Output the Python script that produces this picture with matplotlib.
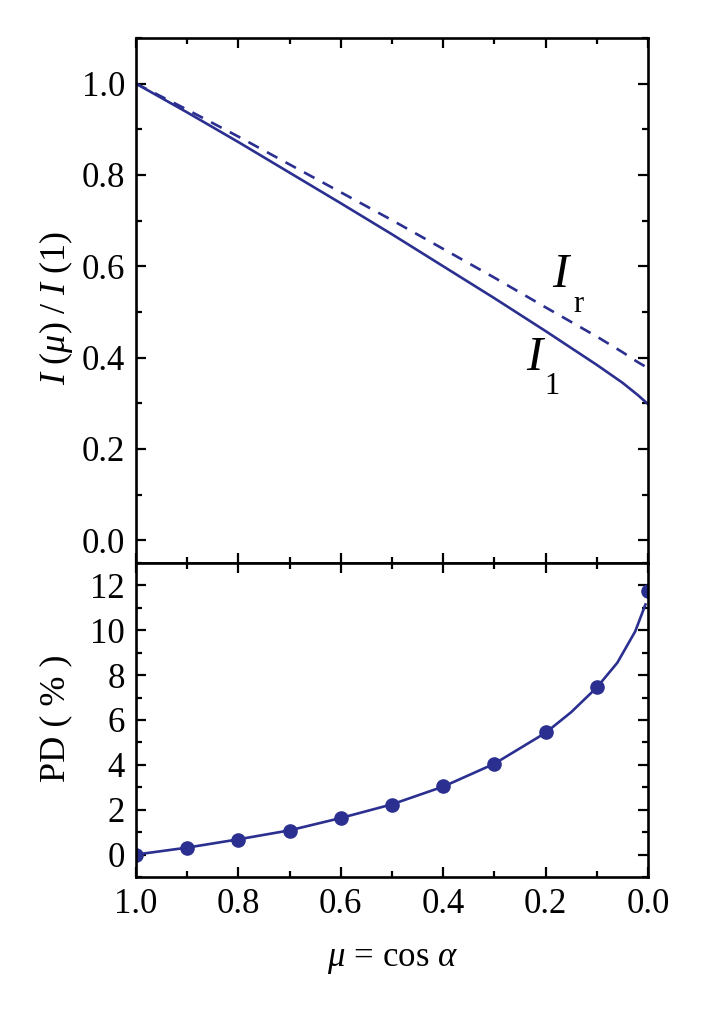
import matplotlib
matplotlib.use("Agg")
import matplotlib.pyplot as plt
from matplotlib.ticker import MultipleLocator, FormatStrFormatter

# top panel: normalized intensities I_l (solid) and I_r (dashed)
mu = [1.0, 0.9, 0.8, 0.7, 0.6, 0.5, 0.4, 0.3, 0.2, 0.1, 0.05, 0.02, 0.0]
I_l = [1.000, 0.937, 0.872, 0.805, 0.738, 0.670, 0.600, 0.530, 0.458, 0.384, 0.345, 0.318, 0.298]
I_r = [1.000, 0.943, 0.884, 0.823, 0.762, 0.701, 0.638, 0.575, 0.510, 0.446, 0.412, 0.390, 0.377]

# bottom panel: polarization degree, points and curve
pd_mu = [1.0, 0.9, 0.8, 0.7, 0.6, 0.5, 0.4, 0.3, 0.2, 0.1, 0.0]
pd_pts = [0.0, 0.31, 0.67, 1.07, 1.65, 2.23, 3.04, 4.06, 5.45, 7.46, 11.74]
line_mu = [1.0, 0.9, 0.8, 0.7, 0.6, 0.5, 0.4, 0.3, 0.2, 0.15, 0.1, 0.06, 0.025, 0.005]
line_pd = [0.0, 0.31, 0.68, 1.08, 1.63, 2.24, 3.03, 4.05, 5.43, 6.35, 7.45, 8.55, 9.95, 11.15]

col = '#2b3090'

plt.rcParams['font.family'] = 'Liberation Serif'
plt.rcParams['mathtext.fontset'] = 'custom'
plt.rcParams['mathtext.rm'] = 'Liberation Serif'
plt.rcParams['mathtext.it'] = 'Liberation Serif:italic'
plt.rcParams['font.size'] = 25

fig = plt.figure(figsize=(7.06, 10.17), dpi=100)
L, W = 136/706, 512/706
ax1 = fig.add_axes([L, 1-563/1017, W, 525/1017])
ax2 = fig.add_axes([L, 1-877/1017, W, 314/1017])

ax1.plot(mu, I_l, color=col, lw=1.9)
ax1.plot(mu, I_r, color=col, lw=1.9, dashes=(4.5, 3.5))
ax1.set_ylim(-0.05, 1.1)
ax1.yaxis.set_major_locator(MultipleLocator(0.2))
ax1.yaxis.set_minor_locator(MultipleLocator(0.1))
ax1.yaxis.set_major_formatter(FormatStrFormatter('%.1f'))
ax1.tick_params(labelbottom=False)

ax1.text(0.168, 0.580, r'$\mathit{I}$', fontsize=35, ha='center', va='center')
ax1.text(0.136, 0.516, 'r', fontsize=22, ha='center', va='center')
ax1.text(0.219, 0.398, r'$\mathit{I}$', fontsize=35, ha='center', va='center')
ax1.text(0.188, 0.336, '1', fontsize=22, ha='center', va='center')

ax2.plot(line_mu, line_pd, color=col, lw=1.9)
ax2.plot(pd_mu, pd_pts, 'o', color=col, ms=9.5)
ax2.set_ylim(-1, 13)
ax2.yaxis.set_major_locator(MultipleLocator(2))
ax2.yaxis.set_minor_locator(MultipleLocator(1))
ax2.xaxis.set_major_formatter(FormatStrFormatter('%.1f'))

for ax in (ax1, ax2):
    ax.set_xlim(1.0, 0.0)
    ax.xaxis.set_major_locator(MultipleLocator(0.2))
    ax.xaxis.set_minor_locator(MultipleLocator(0.1))
    ax.tick_params(which='both', direction='in', top=True, right=True, width=1.6)
    ax.tick_params(which='major', length=7.5, pad=8)
    ax.tick_params(which='minor', length=4)
    for s in ax.spines.values():
        s.set_linewidth(1.9)

fig.text(56/706, 1-308/1017, r'$\mathit{I}\,\,(\mathit{\mu})\,\,/\,\,\mathit{I}\,\,(1)$',
         rotation=90, ha='center', va='center', fontsize=26)
fig.text(56/706, 1-718/1017, 'PD ( % )', rotation=90, ha='center', va='center', fontsize=26)
fig.text(392/706, 1-960/1017, r'$\mathit{\mu}\,=\,\mathrm{cos}\ \mathit{\alpha}$',
         ha='center', va='center', fontsize=25)

fig.savefig('out.png', dpi=100)
